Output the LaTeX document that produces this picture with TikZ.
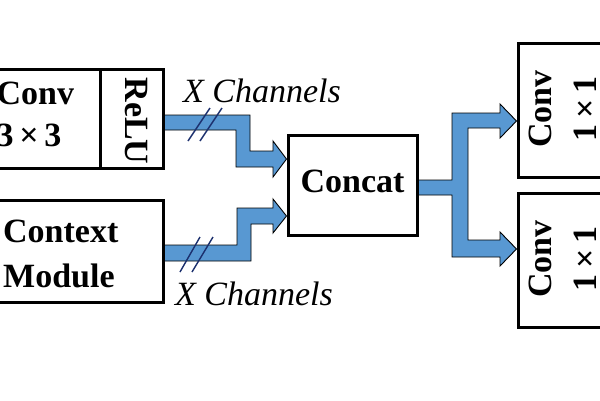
\documentclass[tikz,border=0pt]{standalone}
\usepackage{fontspec}
\setmainfont{Liberation Serif}
\usetikzlibrary{calc}
\definecolor{arrowblue}{RGB}{88,152,210}
\definecolor{slashblue}{RGB}{28,48,110}
\tikzset{
  boxnode/.style={draw=black, line width=3pt, inner sep=0pt, fill=white},
  boldtxt/.style={inner sep=0pt, font=\fontsize{34}{42}\selectfont\bfseries},
  chtxt/.style={inner sep=0pt, font=\fontsize{34}{40}\selectfont\itshape},
  fatarrow/.style={draw=black, line width=0.9pt, fill=arrowblue, line join=miter},
  slashmark/.style={draw=slashblue, line width=1.4pt}
}
\begin{document}
\begin{tikzpicture}[x=1pt,y=-1pt]
\useasboundingbox (0,0) rectangle (600,400);
\clip (0,0) rectangle (600,400);
\fill[white] (0,0) rectangle (600,400);

% boxes
\node[boxnode, minimum width=130pt, minimum height=99pt] (conv) at (35,119) {};
\node[boxnode, minimum width=63pt, minimum height=99pt] (relu) at (131.5,119) {};
\node[boxnode, minimum width=203pt, minimum height=102pt] (ctx) at (61.5,251) {};
\node[boxnode, minimum width=129pt, minimum height=100pt] (concat) at (352.5,185) {};
\node[boxnode, minimum width=90pt, minimum height=134pt] (c1) at (563,110) {};
\node[boxnode, minimum width=90pt, minimum height=134pt] (c2) at (563,260) {};

% texts
\node[boldtxt, align=left, anchor=west] (convt) at (-3.5,114.5) {Conv\\3\,×\,3};
\node[boldtxt, rotate=-90] (relut) at (136.5,121) {ReLU};
\node[boldtxt, align=left, anchor=west, font=\fontsize{34}{45}\selectfont\bfseries] (ctxt) at (3,254) {Context\\Module};
\node[boldtxt] (concatt) at (352.5,181) {Concat};
\node[boldtxt, rotate=90, align=center, font=\fontsize{34}{45}\selectfont\bfseries] (c1t) at (562.5,109) {Conv\\1\,×\,1};
\node[boldtxt, rotate=90, align=center, font=\fontsize{34}{45}\selectfont\bfseries] (c2t) at (562.5,259) {Conv\\1\,×\,1};

% fat arrows
\draw[fatarrow] (relu.east |- 0,115) -- (250,115) -- (250,151) -- (273,151) -- (273,141)
  -- (concat.west |- 0,159) -- (273,177) -- (273,167) -- (236,167) -- (236,130) -- (relu.east |- 0,130) -- cycle;
\draw[fatarrow] (ctx.east |- 0,245) -- (237,245) -- (237,208) -- (273,208) -- (273,199)
  -- (concat.west |- 0,216) -- (273,233) -- (273,224) -- (251,224) -- (251,261) -- (ctx.east |- 0,261) -- cycle;
\draw[fatarrow] (concat.east |- 0,180) -- (452,180) -- (452,113) -- (500,113) -- (500,104)
  -- (c1.west |- 0,121) -- (500,138) -- (500,128) -- (468,128) -- (468,240) -- (500,240) -- (500,232)
  -- (c2.west |- 0,249) -- (500,266) -- (500,257) -- (452,257) -- (452,195) -- (concat.east |- 0,195) -- cycle;

% slashes
\draw[slashmark] (188,141) -- (210,108);
\draw[slashmark] (200,141) -- (222,108);
\draw[slashmark] (180,272) -- (200,237);
\draw[slashmark] (192,272) -- (213,237);

% channel labels
\node[chtxt, anchor=base west] (ch1) at (183,102) {X Channels};
\node[chtxt, anchor=base west] (ch2) at (175,305) {X Channels};
\end{tikzpicture}
\end{document}
